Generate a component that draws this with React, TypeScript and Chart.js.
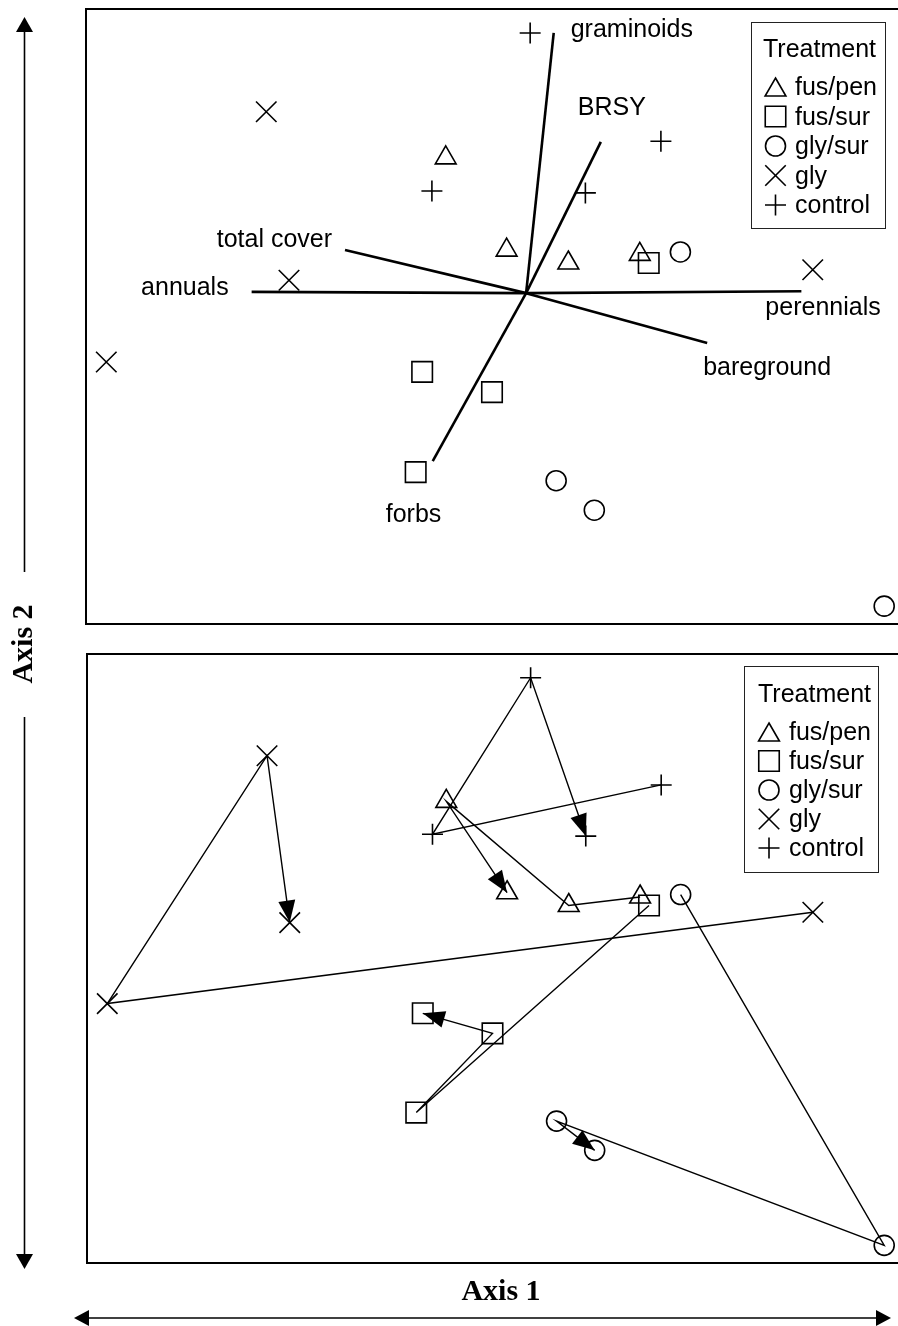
import React, { useEffect, useRef } from 'react';
import { Chart, registerables } from 'chart.js';
import { drawPoint } from 'chart.js/helpers';

Chart.register(...registerables);

// Treatment groups, in legend order
const TREATMENTS = ['fus/pen', 'fus/sur', 'gly/sur', 'gly', 'control'];

// Ordination scores of each treatment at sampling dates 1..4
const FUS_PEN_AX1 = [68.2, 59.4, 44.3, 51.8];
const FUS_PEN_AX2 = [60.1, 58.7, 75.8, 60.8];
const FUS_SUR_AX1 = [69.3, 40.6, 50.0, 41.4];
const FUS_SUR_AX2 = [58.7, 24.7, 37.7, 41.0];
const GLY_SUR_AX1 = [73.2, 98.3, 57.9, 62.6];
const GLY_SUR_AX2 = [60.5, 2.9, 23.3, 18.5];
const GLY_AX1 = [89.5, 2.5, 22.2, 25.0];
const GLY_AX2 = [57.6, 42.6, 83.3, 55.9];
const CONTROL_AX1 = [70.8, 42.6, 54.7, 61.5];
const CONTROL_AX2 = [78.5, 70.4, 96.1, 70.1];

const AX1 = [FUS_PEN_AX1, FUS_SUR_AX1, GLY_SUR_AX1, GLY_AX1, CONTROL_AX1];
const AX2 = [FUS_PEN_AX2, FUS_SUR_AX2, GLY_SUR_AX2, GLY_AX2, CONTROL_AX2];

// Joint-plot vectors of the environmental / cover variables
const VECTOR_NAMES = ['graminoids', 'BRSY', 'total cover', 'annuals', 'perennials', 'bareground', 'forbs'];
const VECTOR_AX1 = [57.6, 63.4, 31.9, 20.4, 88.1, 76.5, 42.7];
const VECTOR_AX2 = [96.1, 78.4, 60.8, 54.0, 54.1, 45.7, 26.5];
const VECTOR_ORIGIN_AX1 = 54.2;
const VECTOR_ORIGIN_AX2 = 53.8;

const AXIS_MIN = 0;
const AXIS_MAX = 100;

// ---- styling ----
const INK = '#000';
const SANS = "'Liberation Sans', Arial, Helvetica, sans-serif";
const SERIF = "'Liberation Serif', 'Times New Roman', Times, serif";
const LABEL_FONT = `25px ${SANS}`;
const AXIS_FONT = `bold 30px ${SERIF}`;

const MARKERS = [
  { pointStyle: 'triangle', radius: 12 },
  { pointStyle: 'rect', radius: 14.5 },
  { pointStyle: 'circle', radius: 10 },
  { pointStyle: 'crossRot', radius: 14.5 },
  { pointStyle: 'cross', radius: 10.5 },
];

// label placement next to each vector tip: [dx, dy(baseline), align]
const VECTOR_LABEL_OFFSETS: [number, number, CanvasTextAlign][] = [
  [17, 4, 'left'],
  [-23, -27, 'left'],
  [-13, -3, 'right'],
  [-23, 3, 'right'],
  [-36, 24, 'left'],
  [-4, 32, 'left'],
  [-47, 61, 'left'],
];

const W = 898;
const H = 1326;
const TOP_CANVAS_H = 640;

const TOP_PADDING = { left: 86, top: 9, right: 0, bottom: TOP_CANVAS_H - 624 };
const BOTTOM_PADDING = { left: 87, top: 654, right: 0, bottom: H - 1263 };

const TOP_LEGEND = {
  box: [751, 22, 885, 228], titleX: 763, titleY: 57,
  symbolX: 775.5, textX: 795, firstY: 95, step: 29.5,
};
const BOTTOM_LEGEND = {
  box: [744, 666, 878, 872], titleX: 758, titleY: 702,
  symbolX: 769, textX: 789, firstY: 740, step: 29,
};

function drawFrame(chart: Chart) {
  const { ctx, chartArea } = chart;
  ctx.save();
  ctx.strokeStyle = INK;
  ctx.lineWidth = 2;
  ctx.beginPath();
  ctx.moveTo(chartArea.right + 4, chartArea.top);
  ctx.lineTo(chartArea.left, chartArea.top);
  ctx.lineTo(chartArea.left, chartArea.bottom);
  ctx.lineTo(chartArea.right + 4, chartArea.bottom);
  ctx.stroke();
  ctx.restore();
}

function drawLegend(chart: Chart, L: typeof TOP_LEGEND) {
  const { ctx } = chart;
  ctx.save();
  const [x0, y0, x1, y1] = L.box;
  ctx.strokeStyle = '#222';
  ctx.lineWidth = 1;
  ctx.strokeRect(x0 + 0.5, y0 + 0.5, x1 - x0, y1 - y0);
  ctx.fillStyle = INK;
  ctx.font = LABEL_FONT;
  ctx.textAlign = 'left';
  ctx.textBaseline = 'alphabetic';
  ctx.fillText('Treatment', L.titleX, L.titleY);
  TREATMENTS.forEach((name, i) => {
    const base = L.firstY + i * L.step;
    const m = MARKERS[i];
    const cy = base - 8 + (m.pointStyle === 'triangle' ? m.radius / 4 : 0);
    ctx.strokeStyle = INK;
    ctx.fillStyle = 'rgba(0,0,0,0)';
    ctx.lineWidth = 1.6;
    drawPoint(ctx, { pointStyle: m.pointStyle as any, radius: m.radius, rotation: 0, borderWidth: 1.6 }, L.symbolX, cy);
    ctx.fillStyle = INK;
    ctx.fillText(name, L.textX, base);
  });
  ctx.restore();
}

function arrowHead(ctx: CanvasRenderingContext2D, x: number, y: number, angle: number, len: number, half: number) {
  const c = Math.cos(angle);
  const s = Math.sin(angle);
  ctx.beginPath();
  ctx.moveTo(x, y);
  ctx.lineTo(x - len * c + half * s, y - len * s - half * c);
  ctx.lineTo(x - len * c - half * s, y - len * s + half * c);
  ctx.closePath();
  ctx.fill();
}

const scales = {
  x: { type: 'linear' as const, min: AXIS_MIN, max: AXIS_MAX, display: false },
  y: { type: 'linear' as const, min: AXIS_MIN, max: AXIS_MAX, display: false },
};

const commonOptions = {
  responsive: false,
  animation: false as const,
  devicePixelRatio: 1,
  events: [] as any[],
  scales,
};

function pointDatasets(withLines: boolean) {
  return TREATMENTS.map((name, i) => ({
    label: name,
    data: AX1[i].map((x, k) => ({ x, y: AX2[i][k] })),
    showLine: withLines,
    borderColor: INK,
    borderWidth: 1.4,
    tension: 0,
    pointStyle: MARKERS[i].pointStyle,
    pointRadius: MARKERS[i].radius,
    pointBorderColor: INK,
    pointBorderWidth: 1.6,
    pointBackgroundColor: 'rgba(0,0,0,0)',
  }));
}

function vectorDatasets() {
  return VECTOR_NAMES.map((name, i) => ({
    label: name,
    data: [
      { x: VECTOR_ORIGIN_AX1, y: VECTOR_ORIGIN_AX2 },
      { x: VECTOR_AX1[i], y: VECTOR_AX2[i] },
    ],
    showLine: true,
    borderColor: INK,
    borderWidth: 2.6,
    pointRadius: 0,
    borderCapStyle: 'butt' as const,
  }));
}

const topPlugin = {
  id: 'jointPlotDecor',
  beforeDatasetsDraw(chart: Chart) {
    drawFrame(chart);
  },
  afterDraw(chart: Chart) {
    const { ctx } = chart;
    const xs = chart.scales.x;
    const ys = chart.scales.y;
    ctx.save();
    ctx.fillStyle = INK;
    ctx.font = LABEL_FONT;
    ctx.textBaseline = 'alphabetic';
    VECTOR_NAMES.forEach((name, i) => {
      const px = xs.getPixelForValue(VECTOR_AX1[i]);
      const py = ys.getPixelForValue(VECTOR_AX2[i]);
      const [dx, dy, align] = VECTOR_LABEL_OFFSETS[i];
      ctx.textAlign = align;
      ctx.fillText(name, px + dx, py + dy);
    });
    ctx.restore();
    drawLegend(chart, TOP_LEGEND);
  },
};

const bottomPlugin = {
  id: 'trajectoryDecor',
  beforeDatasetsDraw(chart: Chart) {
    drawFrame(chart);
  },
  afterDatasetsDraw(chart: Chart) {
    const { ctx } = chart;
    ctx.save();
    ctx.fillStyle = INK;
    TREATMENTS.forEach((_, i) => {
      const pts = chart.getDatasetMeta(i).data;
      const a = pts[pts.length - 2];
      const b = pts[pts.length - 1];
      const ang = Math.atan2(b.y - a.y, b.x - a.x);
      arrowHead(ctx, b.x, b.y, ang, 22, 8.5);
    });
    ctx.restore();
  },
  afterDraw(chart: Chart) {
    drawLegend(chart, BOTTOM_LEGEND);
    const { ctx } = chart;
    ctx.save();
    ctx.strokeStyle = INK;
    ctx.fillStyle = INK;
    ctx.lineWidth = 1.6;

    // Axis 2 double arrow (vertical), broken around its title
    const ax = 24.5;
    ctx.beginPath();
    ctx.moveTo(ax, 30);
    ctx.lineTo(ax, 572);
    ctx.moveTo(ax, 717);
    ctx.lineTo(ax, 1256);
    ctx.stroke();
    arrowHead(ctx, ax, 17, -Math.PI / 2, 15, 8.5);
    arrowHead(ctx, ax, 1269, Math.PI / 2, 15, 8.5);

    // Axis 1 double arrow (horizontal)
    const ay = 1318;
    ctx.beginPath();
    ctx.moveTo(88, ay);
    ctx.lineTo(878, ay);
    ctx.stroke();
    arrowHead(ctx, 74, ay, Math.PI, 15, 8);
    arrowHead(ctx, 891, ay, 0, 15, 8);

    ctx.font = AXIS_FONT;
    ctx.textAlign = 'center';
    ctx.textBaseline = 'alphabetic';
    ctx.fillText('Axis 1', 501, 1300);

    ctx.translate(32, 644);
    ctx.rotate(-Math.PI / 2);
    ctx.fillText('Axis 2', 0, 0);
    ctx.restore();
  },
};

export default function App() {
  const topRef = useRef<HTMLCanvasElement>(null);
  const bottomRef = useRef<HTMLCanvasElement>(null);

  useEffect(() => {
    const top = new Chart(topRef.current as HTMLCanvasElement, {
      type: 'scatter',
      data: { datasets: [...pointDatasets(false), ...vectorDatasets()] as any },
      options: {
        ...commonOptions,
        layout: { padding: TOP_PADDING, autoPadding: false },
        plugins: { legend: { display: false }, tooltip: { enabled: false } },
      } as any,
      plugins: [topPlugin],
    });
    const bottom = new Chart(bottomRef.current as HTMLCanvasElement, {
      type: 'scatter',
      data: { datasets: pointDatasets(true) as any },
      options: {
        ...commonOptions,
        layout: { padding: BOTTOM_PADDING, autoPadding: false },
        plugins: { legend: { display: false }, tooltip: { enabled: false } },
      } as any,
      plugins: [bottomPlugin],
    });
    return () => {
      top.destroy();
      bottom.destroy();
    };
  }, []);

  return (
    <div style={{ position: 'absolute', left: 0, top: 0, width: W, height: H, background: '#fff', overflow: 'hidden' }}>
      <canvas
        ref={bottomRef}
        width={W}
        height={H}
        style={{ position: 'absolute', left: 0, top: 0, width: W, height: H }}
      />
      <canvas
        ref={topRef}
        width={W}
        height={TOP_CANVAS_H}
        style={{ position: 'absolute', left: 0, top: 0, width: W, height: TOP_CANVAS_H }}
      />
    </div>
  );
}
